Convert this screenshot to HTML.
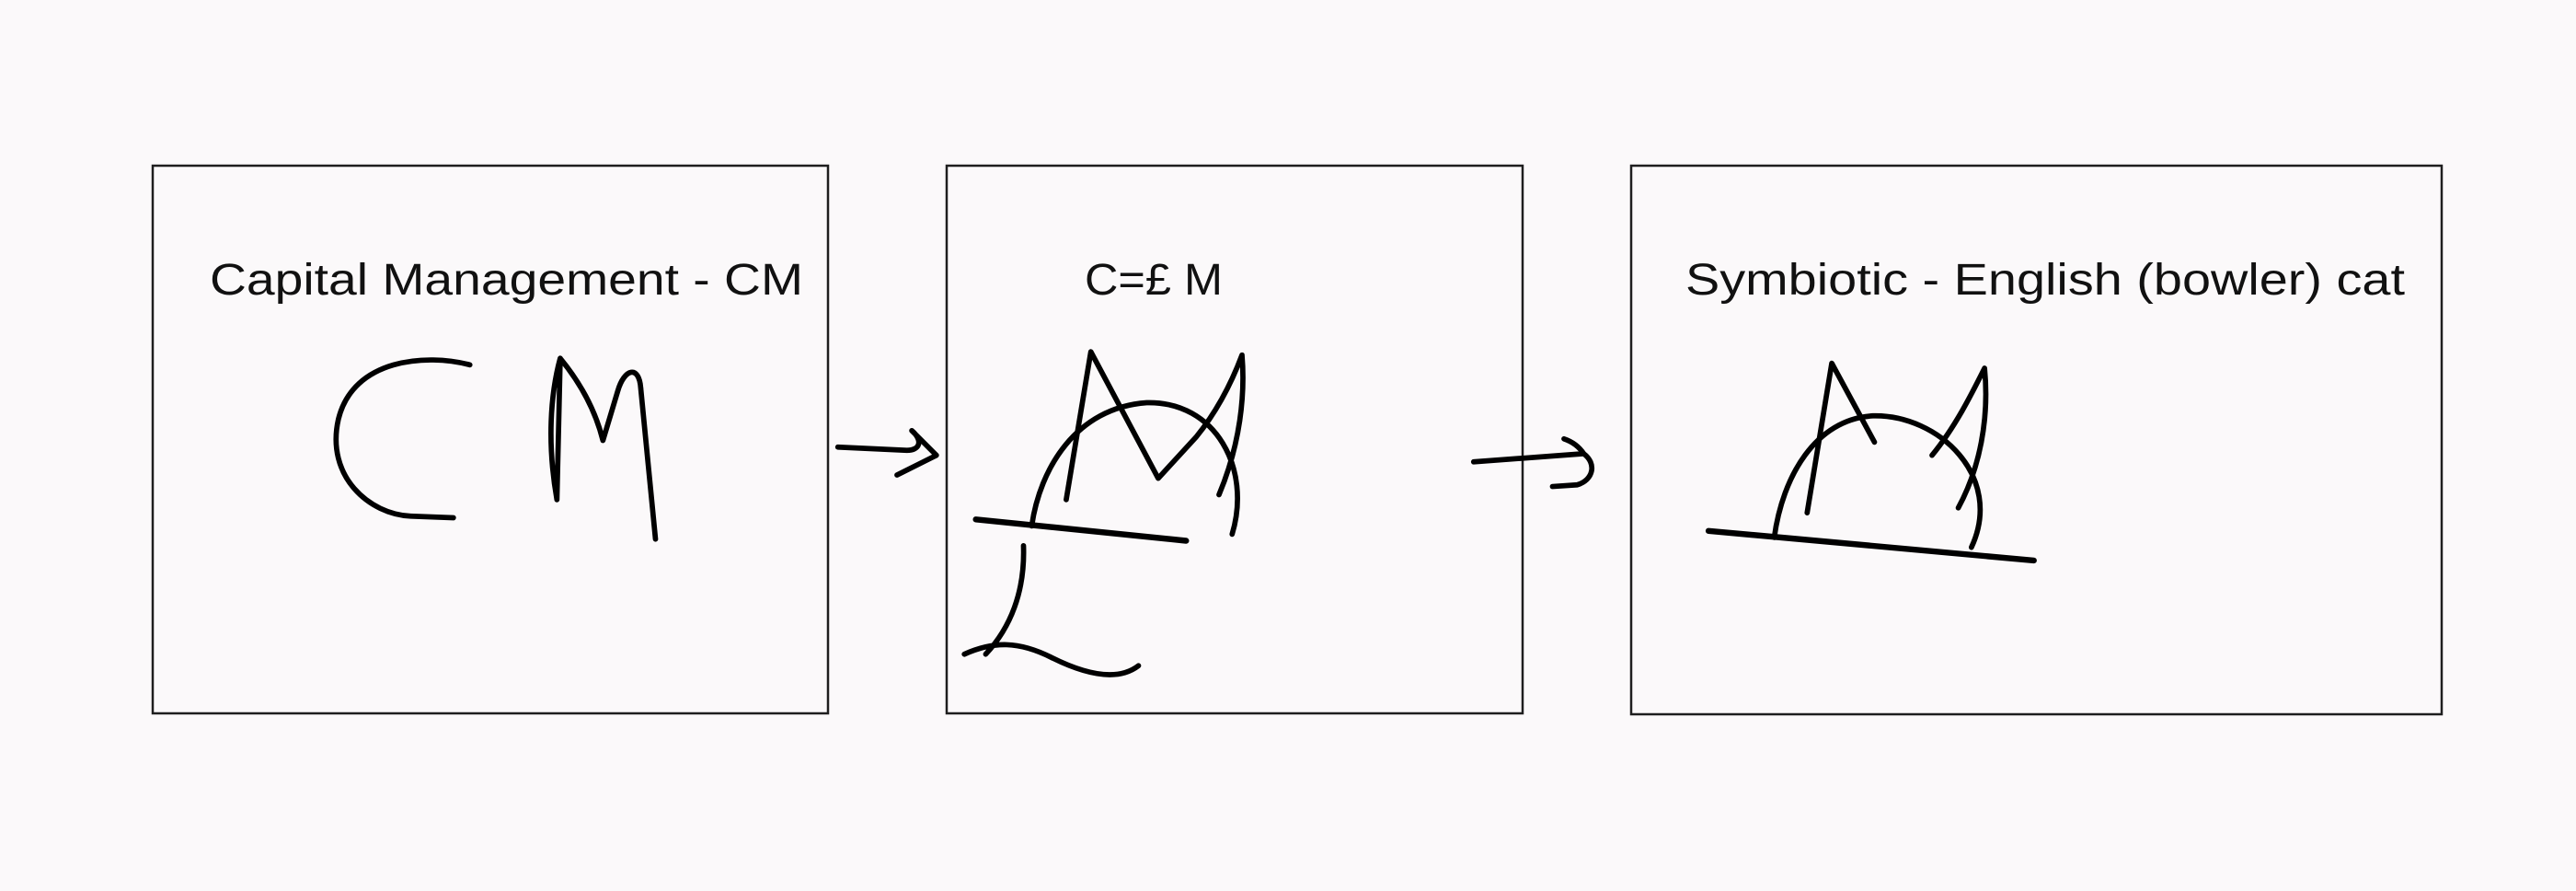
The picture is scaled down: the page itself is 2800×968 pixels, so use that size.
<!DOCTYPE html>
<html><head><meta charset="utf-8"><style>
html,body{margin:0;padding:0;background:#fbf9fa;}
svg{display:block;}
text{font-family:"Liberation Sans",sans-serif;fill:#111;}
</style></head><body>
<svg width="2800" height="968" viewBox="0 0 2800 968" xmlns="http://www.w3.org/2000/svg">
<rect width="2800" height="968" fill="#fbf9fa"/>
<g fill="none" stroke="#1e1e1e" stroke-width="2.5">
<rect x="166" y="180" width="734" height="595"/>
<rect x="1029" y="180" width="626" height="595"/>
<rect x="1773" y="180" width="881" height="596"/>
</g>
<text x="228" y="320" font-size="48" textLength="645" lengthAdjust="spacingAndGlyphs">Capital Management - CM</text>
<text x="1179" y="320" font-size="48" textLength="150" lengthAdjust="spacingAndGlyphs">C=£ M</text>
<text x="1832" y="320" font-size="48" textLength="782" lengthAdjust="spacingAndGlyphs">Symbiotic - English (bowler) cat</text>
<g transform="scale(1.7857)" fill="none" stroke="#000" stroke-width="3.2" stroke-linecap="round" stroke-linejoin="round">
<path d="M286,222 C260,215 215,218 206,255 C198,290 225,313 250,314 L276,315"/>
<path d="M339,304 C333,270 335,240 341,218 L339,304 M341,218 C355,235 363,252 367,268 L376,238 C380,224 389,222 390,236 L399,328"/>
<path d="M510,272 L552,274 C560,274 562,268 555,262 M555,262 L570,277 L546,289"/>
<path d="M649,304 L664,214 L705,291 L728,266 C741,250 750,232 756,216 C758,240 755,270 742,301"/>
<path d="M628,320 C633,285 655,248 698,245 C740,244 762,285 750,325"/>
<path d="M594,316 L722,329" stroke-width="3.6"/>
<path d="M623,332 C624,360 615,382 600,398 M587,398 C605,390 620,390 640,400 C660,410 680,415 693,405"/>
<path d="M897,281 L964,276 C960,270 955,268 952,267 M964,276 C972,282 970,292 960,295 L945,296"/>
<path d="M1100,312 L1115,221 L1141,269"/>
<path d="M1176,277 C1190,260 1200,240 1208,224 C1211,255 1205,285 1192,309"/>
<path d="M1080,327 C1085,290 1105,255 1140,253 C1180,252 1220,290 1200,333"/>
<path d="M1040,323 L1238,341" stroke-width="3.6"/>
</g>
</svg>
</body></html>
